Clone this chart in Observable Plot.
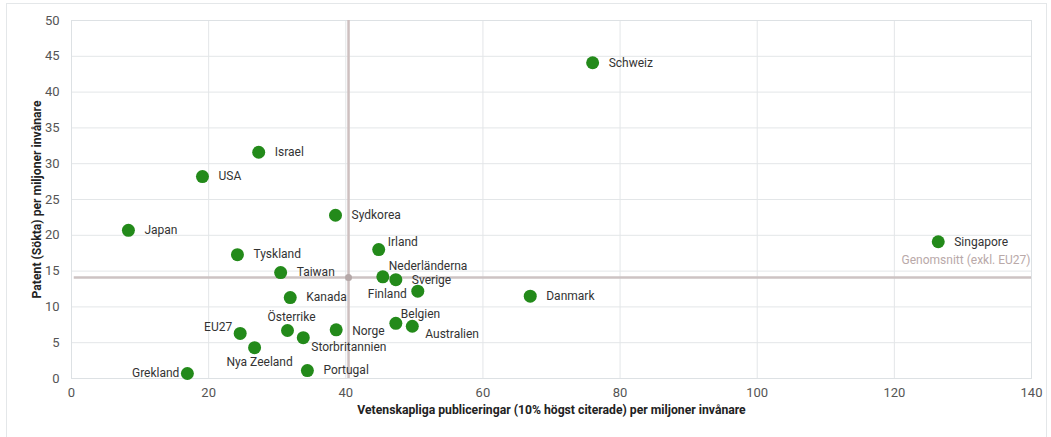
<!DOCTYPE html>
<html><head><meta charset="utf-8">
<script src="https://cdn.jsdelivr.net/npm/d3@7"></script>
<script src="https://cdn.jsdelivr.net/npm/@observablehq/plot@0.6"></script>
<style>
body{margin:0;background:#fff;font-family:Roboto,"Liberation Sans",sans-serif}
#chart{position:absolute;left:0;top:0}
#frame{position:absolute;left:6px;top:3px;width:1039px;height:440px;border:1px solid #e4e7e9;pointer-events:none}
</style></head>
<body><div id="chart"></div><div id="frame"></div>
<script>
const countries = ["Schweiz","Israel","USA","Sydkorea","Japan","Tyskland","Irland","Singapore","Taiwan","Nederländerna","Sverige","Finland","Danmark","Kanada","EU27","Österrike","Storbritannien","Norge","Belgien","Australien","Nya Zeeland","Grekland","Portugal"];
const publications = [76.0,27.3,19.1,38.5,8.3,24.2,44.8,126.4,30.5,45.4,47.3,50.5,66.9,31.9,24.6,31.5,33.8,38.6,47.3,49.7,26.7,16.9,34.4];
const patents = [44.1,31.6,28.2,22.8,20.7,17.3,18.0,19.1,14.8,14.2,13.8,12.2,11.5,11.3,6.3,6.7,5.7,6.8,7.7,7.3,4.3,0.7,1.1];
const xTicks = [0,20,40,60,80,100,120,140];
const yTicks = [0,5,10,15,20,25,30,35,40,45,50];
const avgPublications = 40.4;
const avgPatents = 14.1;
const avgLabel = "Genomsnitt (exkl. EU27)";
const xTitle = "Vetenskapliga publiceringar (10% högst citerade) per miljoner invånare";
const yTitle = "Patent (Sökta) per miljoner invånare";

const data = countries.map((c, i) => ({country: c, x: publications[i], y: patents[i]}));

// label placement: [textAnchor, dx, dy]
const placement = {
  "Irland": ["start", 9, -7],
  "Nederländerna": ["start", 6, -11],
  "Finland": ["end", -11, 3],
  "EU27": ["end", -8, -6],
  "Österrike": ["middle", 4, -13],
  "Storbritannien": ["start", 8, 9],
  "Norge": ["start", 16, 1],
  "Belgien": ["start", 5, -9],
  "Australien": ["start", 13, 8],
  "Nya Zeeland": ["middle", 5, 14],
  "Grekland": ["end", -8, 0]
};

const labelMarks = data.map(d => {
  const [anchor, dx, dy] = placement[d.country] || ["start", 16, 0];
  return Plot.text([d], {x: "x", y: "y", text: "country", textAnchor: anchor, dx, dy, fill: "#333", fontSize: 12});
});

const chart = Plot.plot({
  width: 1051,
  height: 437,
  marginLeft: 71,
  marginRight: 20,
  marginTop: 20,
  marginBottom: 59,
  style: {fontFamily: "Roboto, 'Liberation Sans', sans-serif", fontSize: "13px", color: "#555", background: "transparent"},
  x: {domain: [0, 140], label: null},
  y: {domain: [0, 50], label: null},
  marks: [
    Plot.gridX(xTicks, {stroke: "#e3e6e8", strokeOpacity: 1}),
    Plot.gridY(yTicks, {stroke: "#e3e6e8", strokeOpacity: 1}),
    Plot.frame({stroke: "#dde1e4"}),
    Plot.axisX({ticks: xTicks, tickSize: 0, tickPadding: 9, label: null, fontSize: 13, fill: "#555"}),
    Plot.axisY({ticks: yTicks, tickSize: 0, tickPadding: 12, label: null, fontSize: 13, fill: "#555"}),
    Plot.ruleX([avgPublications], {y1: 0, y2: 50, stroke: "#cdbfbf", strokeWidth: 2.5}),
    Plot.ruleY([avgPatents], {x1: 0.4, x2: 140, stroke: "#cdc3c3", strokeWidth: 2.5}),
    Plot.dot([{x: avgPublications, y: avgPatents}], {x: "x", y: "y", r: 3.5, fill: "#b5a8a8"}),
    Plot.text([avgLabel], {x: 140, y: avgPatents, text: d => d, textAnchor: "end", dx: -1, dy: -17, fill: "#b9a9a9", fontSize: 12}),
    Plot.dot(data, {x: "x", y: "y", r: 6.5, fill: "#238a1a"}),
    ...labelMarks,
    Plot.text([xTitle], {frameAnchor: "bottom", textAnchor: "middle", text: d => d, dy: 35, fontWeight: "bold", fontSize: 12.2, fill: "#222"}),
    Plot.text([yTitle], {frameAnchor: "left", textAnchor: "middle", text: d => d, dx: -34, rotate: -90, fontWeight: "bold", fontSize: 12.2, fill: "#222"})
  ]
});
document.getElementById("chart").appendChild(chart);
</script>
</body></html>
